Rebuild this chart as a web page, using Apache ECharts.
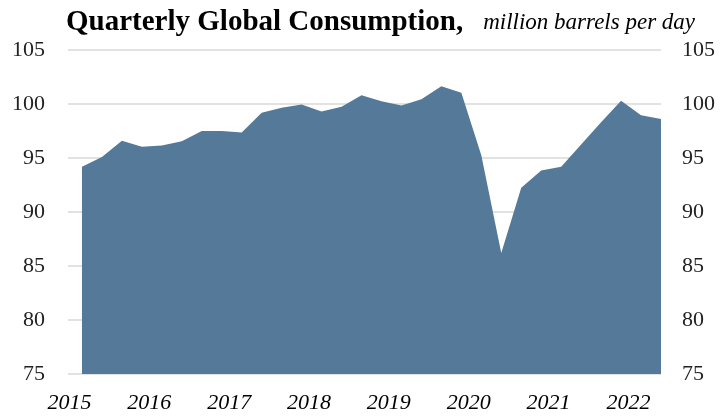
<!DOCTYPE html>
<html>
<head>
<meta charset="utf-8">
<script src="https://cdn.jsdelivr.net/npm/echarts@6/dist/echarts.min.js"></script>
<style>html,body{margin:0;padding:0;background:#fff}#c{width:720px;height:418px}</style>
</head>
<body>
<div id="c"></div>
<script>
// Quarterly global oil consumption, 2015 Q1 .. 2022 Q2 (million barrels per day)
var quarters = ['2015Q1','2015Q2','2015Q3','2015Q4','2016Q1','2016Q2','2016Q3','2016Q4',
  '2017Q1','2017Q2','2017Q3','2017Q4','2018Q1','2018Q2','2018Q3','2018Q4',
  '2019Q1','2019Q2','2019Q3','2019Q4','2020Q1','2020Q2','2020Q3','2020Q4',
  '2021Q1','2021Q2','2021Q3','2021Q4','2022Q1','2022Q2'];
var consumption = [94.2, 95.1, 96.6, 96.05, 96.15, 96.55, 97.5, 97.5,
  97.35, 99.2, 99.65, 99.95, 99.3, 99.75, 100.8, 100.25,
  99.85, 100.45, 101.65, 101.05, 95.25, 86.2, 92.25, 93.85,
  94.2, 96.25, 98.3, 100.3, 98.95, 98.6];
var yearLabels = ['2015','2016','2017','2018','2019','2020','2021','2022'];
var yTicks = [75, 80, 85, 90, 95, 100, 105];

var seriesData = consumption.map(function (v, i) { return [i, v]; });
var labelPositions = yearLabels.map(function (y, k) { return -0.63 + 4 * k; });

var serif = '"Liberation Serif", "DejaVu Serif", serif';
var chart = echarts.init(document.getElementById('c'));
chart.setOption({
  animation: false,
  backgroundColor: '#ffffff',
  title: {
    left: 61, top: 3,
    text: '{a|Quarterly Global Consumption,}{b|million barrels per day}',
    textStyle: {
      fontWeight: 'normal',
      rich: {
        a: { fontFamily: serif, fontWeight: 'bold', fontSize: 29, color: '#000' },
        b: { fontFamily: serif, fontStyle: 'italic', fontWeight: 'normal', fontSize: 23, color: '#000', padding: [0, 0, 0, 20] }
      }
    }
  },
  grid: { left: 68, right: 59, top: 50, bottom: 44, containLabel: false },
  xAxis: {
    type: 'value', min: -0.7, max: quarters.length - 1,
    axisLine: { show: false }, axisTick: { show: false }, splitLine: { show: false },
    axisLabel: {
      customValues: labelPositions,
      formatter: function (v) {
        var k = Math.round((v + 0.63) / 4);
        return yearLabels[k] || '';
      },
      fontFamily: serif, fontStyle: 'italic', fontSize: 22, color: '#000', margin: 18
    }
  },
  yAxis: [
    {
      type: 'value', min: yTicks[0], max: yTicks[yTicks.length - 1], interval: 5, position: 'left',
      axisLine: { show: false }, axisTick: { show: false },
      splitLine: { show: true, lineStyle: { color: '#d9d9d9', width: 1.5 } },
      axisLabel: { fontFamily: serif, fontSize: 22, color: '#222', margin: 23 }
    },
    {
      type: 'value', min: yTicks[0], max: yTicks[yTicks.length - 1], interval: 5, position: 'right',
      axisLine: { show: false }, axisTick: { show: false }, splitLine: { show: false },
      axisLabel: { fontFamily: serif, fontSize: 22, color: '#222', margin: 21 }
    }
  ],
  series: [{
    type: 'line', data: seriesData, symbol: 'none',
    lineStyle: { width: 0 },
    areaStyle: { color: '#557999', opacity: 1, origin: 'start' },
    z: 3
  }]
});
</script>
</body>
</html>
